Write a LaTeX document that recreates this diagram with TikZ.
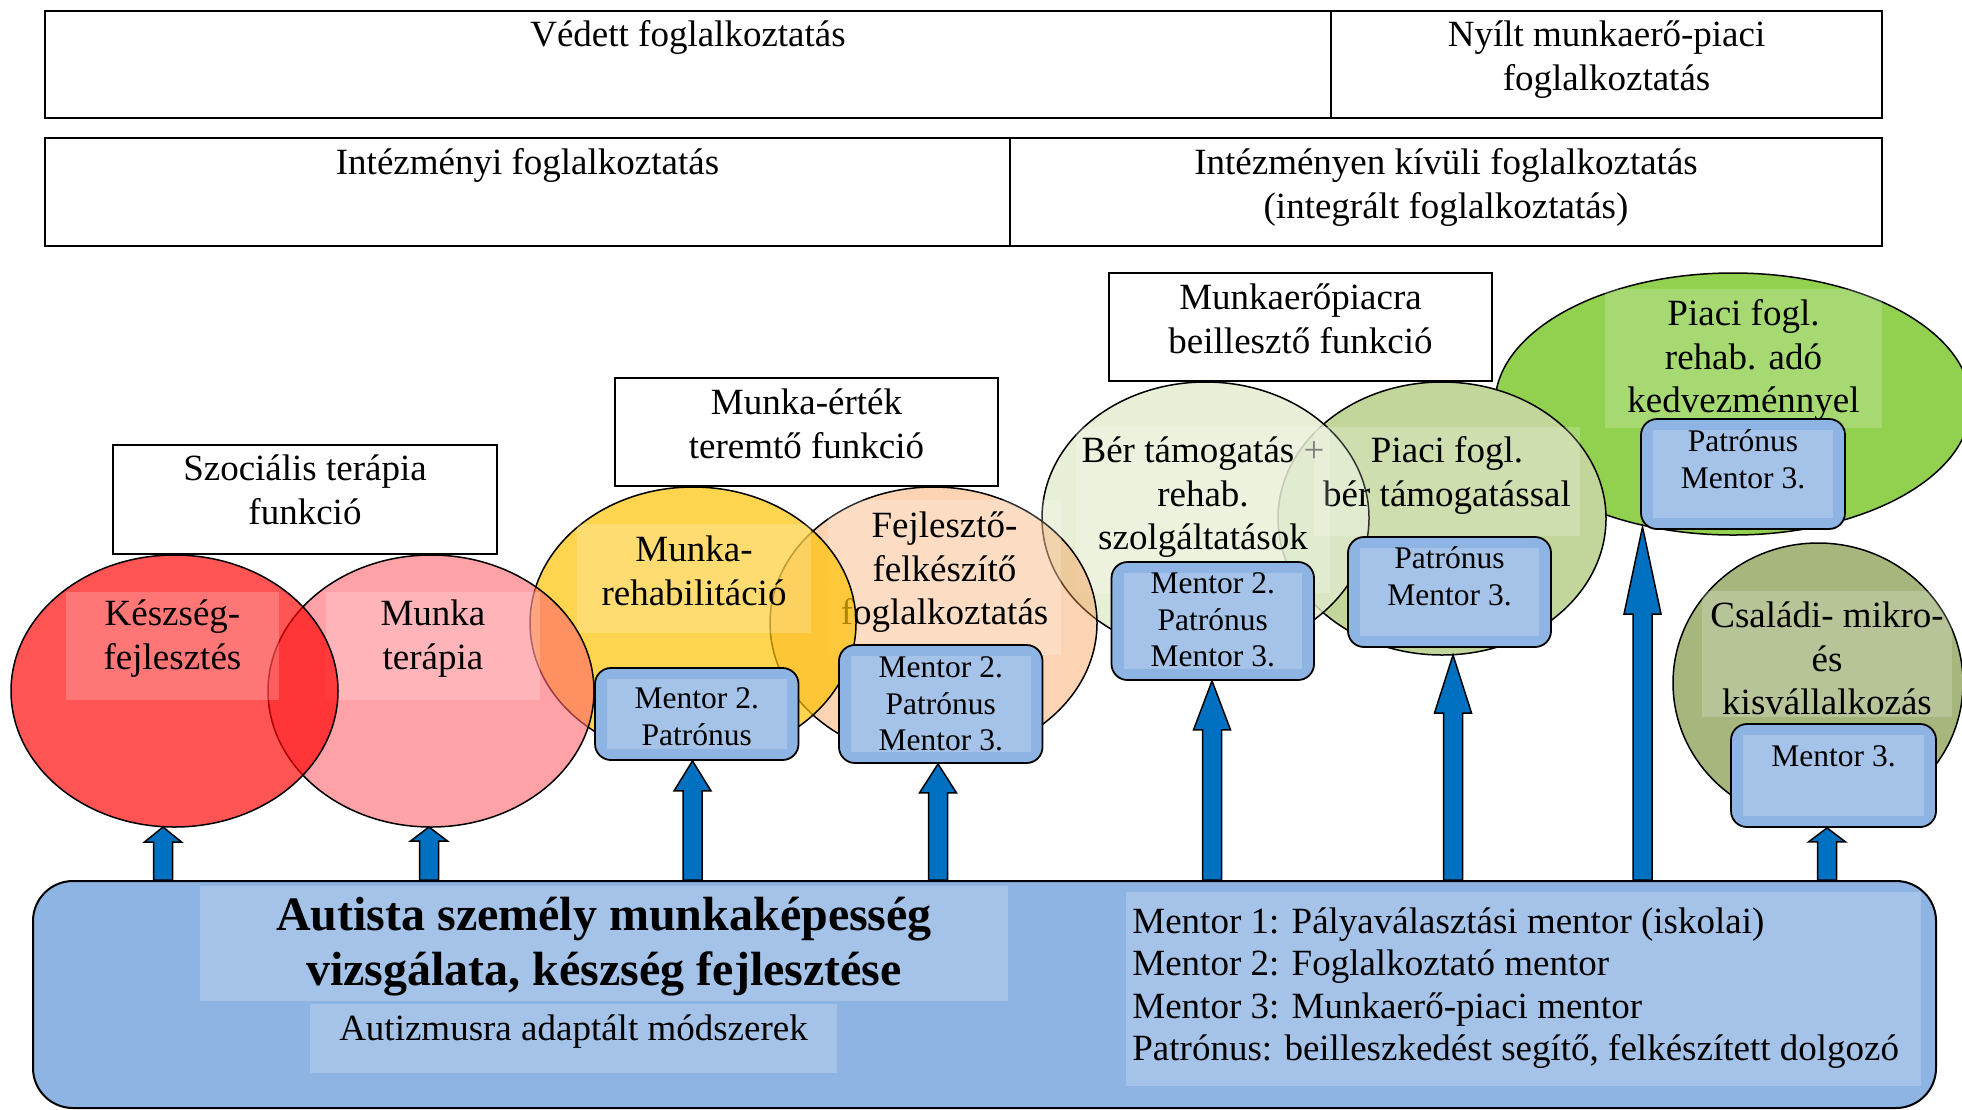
\documentclass[tikz,border=0pt]{standalone}
\usepackage{fontspec}
\setmainfont{Liberation Serif}
\usetikzlibrary{shapes.geometric,calc}
\definecolor{cRed}{RGB}{255,0,0}
\definecolor{cPink}{RGB}{255,100,110}
\definecolor{cYellow}{RGB}{255,192,0}
\definecolor{cPeach}{RGB}{247,150,70}
\definecolor{cBer}{RGB}{225,235,205}
\definecolor{cPiaci}{RGB}{194,214,155}
\definecolor{cRehab}{RGB}{146,208,80}
\definecolor{cCsaladi}{RGB}{166,182,125}
\definecolor{mOut}{RGB}{142,180,227}
\definecolor{mIn}{RGB}{165,195,232}
\definecolor{arrowblue}{RGB}{0,112,192}
\tikzset{
  txt/.style={inner sep=0pt, align=center, yshift=-1pt, font=\fontsize{18.5pt}{21.75pt}\selectfont},
  mtxt/.style={inner sep=0pt, align=center, font=\fontsize{15.75pt}{18.25pt}\selectfont},
  ttl/.style={inner sep=0pt, align=center, font=\bfseries\fontsize{24pt}{27.5pt}\selectfont},
  cell/.style={draw, line width=1pt, fill=white, inner sep=0pt},
  ell/.style={draw, ellipse, line width=0.75pt, inner sep=0pt, outer sep=0pt},
  mbox/.style={draw, line width=0.9pt, rounded corners=8pt, fill=mOut, inner sep=0pt},
  mentorinner/.style={fill=mIn},
  labelbg/.style={fill=white, fill opacity=0.2},
  arrowshape/.style={fill=arrowblue, draw=black, line width=0.75pt, line join=miter},
}
\newcommand\mentorbox[7]{%
  \node[mbox, minimum width={(#4-#2)*0.5pt}, minimum height={(#5-#3)*0.5pt}] (#1) at ({(#2+#4)/2},{(#3+#5)/2}) {};
  \fill[mentorinner] ({#2+12},{#3+11}) rectangle ({#4-12},{#5-11});
  \node[mtxt, anchor=north] (#1-text) at ({(#2+#4)/2},#6) {\strut #7};
}
\newcommand\blockup[3]{%
  \path[arrowshape] let \p1=(#2), \p2=(base.north) in
    ({#1*0.5pt-4.75pt},\y2) -- ({#1*0.5pt-4.75pt},{\y1-#3*0.5pt}) --
    ({#1*0.5pt-9.25pt},{\y1-#3*0.5pt}) -- ({#1*0.5pt},\y1) --
    ({#1*0.5pt+9.25pt},{\y1-#3*0.5pt}) -- ({#1*0.5pt+4.75pt},{\y1-#3*0.5pt}) --
    ({#1*0.5pt+4.75pt},\y2) -- cycle;
}
\begin{document}
\begin{tikzpicture}[x=0.5pt, y=-0.5pt]
\useasboundingbox (0,0) rectangle (1962,1109);

% top cells
\node[cell, minimum width=643pt, minimum height=53.5pt] (c1) at (688,64.5) {};
\node[cell, minimum width=275.5pt, minimum height=53.5pt] (c2) at (1606.5,64.5) {};
\node[cell, minimum width=482.5pt, minimum height=54pt] (c3) at (527.5,192) {};
\node[cell, minimum width=436pt, minimum height=54pt] (c4) at (1446,192) {};
\node[txt, anchor=north] (tc1) at (688,14) {\strut Védett foglalkoztatás};
\node[txt, anchor=north] (tc2) at (1606.5,14) {\strut Nyílt munkaerő-piaci\\foglalkoztatás};
\node[txt, anchor=north] (tc3) at (527.5,142) {\strut Intézményi foglalkoztatás};
\node[txt, anchor=north] (tc4) at (1446,142) {\strut Intézményen kívüli foglalkoztatás\\(integrált foglalkoztatás)};

% ellipses, right to left
\node[ell, fill=cCsaladi, minimum width=145pt, minimum height=140pt] (e8) at (1818,683) {};
\fill[labelbg] (1702,591) rectangle (1952,717);
\node[txt, anchor=north] (t8) at (1827,595) {\strut Családi- mikro-\\és\\kisvállalkozás};

\node[ell, fill=cRehab, minimum width=238pt, minimum height=131pt] (e7) at (1733,404) {};
\fill[labelbg] (1605,289) rectangle (1882,428);
\node[txt, anchor=north] (t7) at (1743.5,293) {\strut Piaci fogl.\\rehab. adó\\kedvezménnyel};

\node[ell, fill=cPiaci, minimum width=164pt, minimum height=136.5pt] (e6) at (1442,518.5) {};
\node[ell, fill=cBer, fill opacity=0.8, minimum width=163.5pt, minimum height=136pt] (e5) at (1205.5,518) {};
\fill[labelbg] (1314,427) rectangle (1580,536);
\node[txt, anchor=north] (t6) at (1447,430) {\strut Piaci fogl.\\bér támogatással};
\fill[labelbg] (1076,427) rectangle (1330,593);
\node[txt, anchor=north] (t5) at (1203,430) {\strut Bér támogatás {\color{gray}+}\\rehab.\\szolgáltatások};

\node[ell, fill=cPeach, fill opacity=0.41, minimum width=163.5pt, minimum height=136pt] (e4) at (933.5,623) {};
\fill[labelbg] (828,500) rectangle (1061,655);
\node[txt, anchor=north] (t4) at (944.5,505) {\strut Fejlesztő-\\felkészítő\\foglalkoztatás};

\node[ell, fill=cYellow, fill opacity=0.69, minimum width=163pt, minimum height=136pt] (e3) at (693,623) {};
\fill[labelbg] (577,524) rectangle (811,633);
\node[txt, anchor=north] (t3) at (694,529) {\strut Munka-\\rehabilitáció};

\node[ell, fill=cPink, fill opacity=0.6, minimum width=163pt, minimum height=136pt] (e2) at (431,691) {};
\fill[labelbg] (326,592) rectangle (540,700);
\node[txt, anchor=north] (t2) at (433,593) {\strut Munka\\terápia};

\node[ell, fill=cRed, fill opacity=0.67, minimum width=163.5pt, minimum height=136pt] (e1) at (174.5,691) {};
\fill[labelbg] (66,592) rectangle (279,700);
\node[txt, anchor=north] (t1) at (172.5,593) {\strut Készség-\\fejlesztés};

% function boxes
\node[cell, minimum width=192pt, minimum height=54.5pt] (f1) at (305,499.5) {};
\node[txt, anchor=north] (ft1) at (305,448) {\strut Szociális terápia\\funkció};
\node[cell, minimum width=191.5pt, minimum height=54pt] (f2) at (806.5,432) {};
\node[txt, anchor=north] (ft2) at (806.5,382) {\strut Munka-érték\\teremtő funkció};
\node[cell, minimum width=191.5pt, minimum height=54pt] (f3) at (1300.5,327) {};
\node[txt, anchor=north] (ft3) at (1300.5,277) {\strut Munkaerőpiacra\\beillesztő funkció};

% mentor boxes
\mentorbox{mA}{595}{668}{798.5}{760}{683}{Mentor 2.\\Patrónus}
\mentorbox{mB}{839}{645}{1042.5}{763}{652}{Mentor 2.\\Patrónus\\Mentor 3.}
\mentorbox{mC}{1111.5}{562}{1314}{680}{568}{Mentor 2.\\Patrónus\\Mentor 3.}
\mentorbox{mD}{1348}{537}{1551}{647}{543}{Patrónus\\Mentor 3.}
\mentorbox{mE}{1641}{419}{1845}{529}{426}{Patrónus\\Mentor 3.}
\mentorbox{mF}{1731}{724}{1936}{827}{741}{Mentor 3.}

% base box
\node[draw, line width=1pt, fill=mOut, rounded corners=20pt, inner sep=0pt,
      minimum width=951.5pt, minimum height=113.5pt] (base) at (984.5,994.5) {};
\fill[mentorinner] (200,886) rectangle (1008,1001);
\fill[mentorinner] (310,1004) rectangle (837,1073);
\fill[mentorinner] (1126,892) rectangle (1921,1086);
\node[ttl, anchor=north] (title) at (604,891.5) {\strut Autista személy munkaképesség\\vizsgálata, készség fejlesztése};
\node[txt, anchor=north] (sub) at (573.5,1008) {\strut Autizmusra adaptált módszerek};
\node[txt, align=left, anchor=north west, yshift=1pt, font=\fontsize{18.5pt}{21.25pt}\selectfont] (legend) at (1132,903)
  {\strut Mentor 1: Pályaválasztási mentor (iskolai)\\Mentor 2: Foglalkoztató mentor\\Mentor 3: Munkaerő-piaci mentor\\Patrónus: beilleszkedést segítő, felkészített dolgozó};

% arrows
\coordinate (tip7) at (1642.5,527);
\blockup{163}{e1.south}{15}
\blockup{429}{e2.south}{14}
\blockup{692.5}{mA.south}{30}
\blockup{938}{mB.south}{29}
\blockup{1212}{mC.south}{49}
\blockup{1453}{e6.south}{58}
\blockup{1642.5}{tip7}{87}
\blockup{1827}{mF.south}{14}
\end{tikzpicture}
\end{document}
